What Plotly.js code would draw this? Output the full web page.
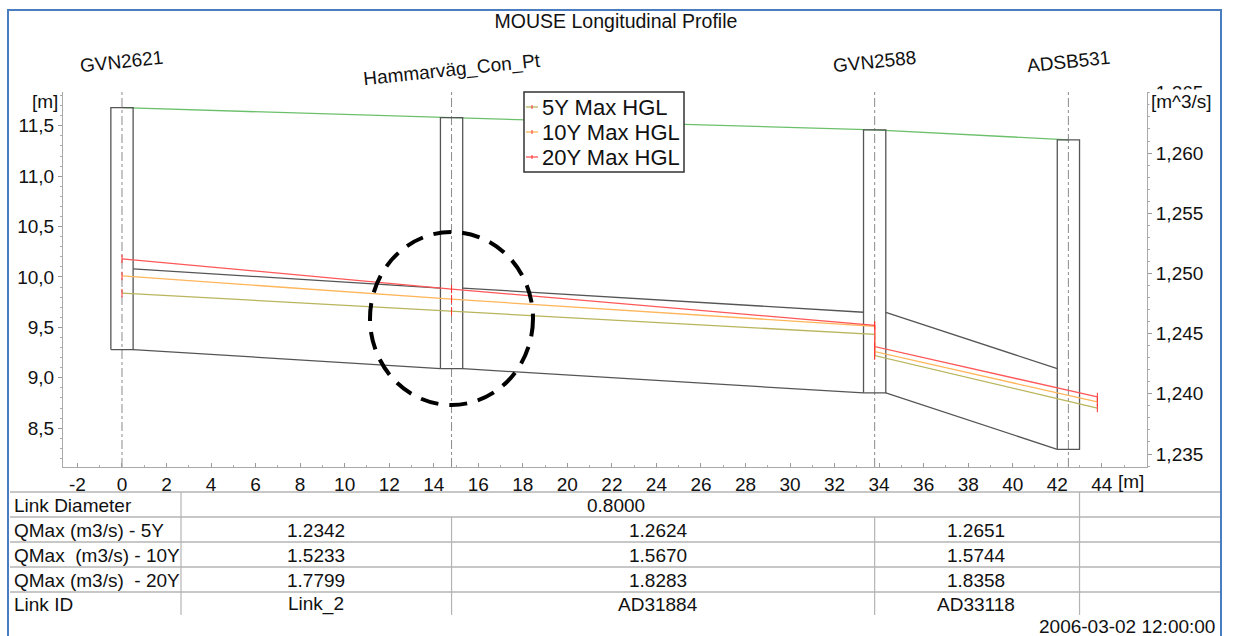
<!DOCTYPE html>
<html>
<head>
<meta charset="utf-8">
<script src="https://cdn.plot.ly/plotly-3.0.1.min.js"></script>
<style>html,body{margin:0;padding:0;background:#fff;}#chart{width:1234px;height:636px;}</style>
</head>
<body>
<div id="chart"></div>
<script>
// ---------------- DATA ----------------
const chartTitle = 'MOUSE Longitudinal Profile';
const nodeNames = ['GVN2621', 'Hammarväg_Con_Pt', 'GVN2588', 'ADSB531'];
const nodeChainage = [0, 14.8, 33.8, 42.5];
const groundLevel = [11.68, 11.58, 11.46, 11.36];
const nodeBottom = [9.28, 9.09, 8.85, 8.29];

const linkIds = ['Link_2', 'AD31884', 'AD33118'];
const linkDiameter = 0.8;
const pipeUpInvert = [9.28, 9.09, 8.85];
const pipeDownInvert = [9.09, 8.85, 8.29];

const hglChainage = [0, 14.8, 33.8, 33.8, 43.8];
const hgl5Y = [9.84, 9.66, 9.43, 9.22, 8.70];
const hgl10Y = [10.01, 9.78, 9.51, 9.26, 8.76];
const hgl20Y = [10.18, 9.88, 9.52, 9.31, 8.81];
const seriesNames = ['5Y Max HGL', '10Y Max HGL', '20Y Max HGL'];

const qMax5Y = [1.2342, 1.2624, 1.2651];
const qMax10Y = [1.5233, 1.5670, 1.5744];
const qMax20Y = [1.7799, 1.8283, 1.8358];
const rowLabels = ['Link Diameter', 'QMax (m3/s) - 5Y', 'QMax \u00a0(m3/s) - 10Y', 'QMax (m3/s) \u00a0- 20Y', 'Link ID'];
const timeStamp = '2006-03-02 12:00:00';

const xTickVals = [-2, 0, 2, 4, 6, 8, 10, 12, 14, 16, 18, 20, 22, 24, 26, 28, 30, 32, 34, 36, 38, 40, 42, 44];
const xTickText = ['-2', '0', '2', '4', '6', '8', '10', '12', '14', '16', '18', '20', '22', '24', '26', '28', '30', '32', '34', '36', '38', '40', '42', '44'];

// ---------------- LAYOUT HELPERS ----------------
const FONT = 'Arial, "Liberation Sans", sans-serif';
const M = {l: 63, r: 87, t: 92, b: 169};
const PW = 1234 - M.l - M.r, PH = 636 - M.t - M.b;
const px = x => (x - M.l) / PW;
const py = y => (636 - M.b - y) / PH;
const MH_W = 1.0;

// ---------------- TRACES ----------------
const traces = [];

traces.push({type: 'scatter', mode: 'lines', x: nodeChainage, y: groundLevel,
  line: {color: '#6cc06b', width: 1.3}, showlegend: false, hoverinfo: 'skip'});

const mhX = [], mhY = [];
nodeChainage.forEach((c, i) => {
  mhX.push(c - MH_W / 2, c + MH_W / 2, c + MH_W / 2, c - MH_W / 2, c - MH_W / 2, null);
  mhY.push(nodeBottom[i], nodeBottom[i], groundLevel[i], groundLevel[i], nodeBottom[i], null);
});
traces.push({type: 'scatter', mode: 'lines', x: mhX, y: mhY,
  line: {color: '#555', width: 1.3}, showlegend: false, hoverinfo: 'skip'});

const pX = [], pY = [];
linkIds.forEach((id, i) => {
  const xa = nodeChainage[i] + MH_W / 2, xb = nodeChainage[i + 1] - MH_W / 2;
  pX.push(xa, xb, null, xa, xb, null);
  pY.push(pipeUpInvert[i], pipeDownInvert[i], null,
          pipeUpInvert[i] + linkDiameter, pipeDownInvert[i] + linkDiameter, null);
});
traces.push({type: 'scatter', mode: 'lines', x: pX, y: pY,
  line: {color: '#555', width: 1.3}, showlegend: false, hoverinfo: 'skip'});

const hglColors = ['#b9b55c', '#ffb55a', '#ff5757'];
[hgl5Y, hgl10Y, hgl20Y].forEach((s, i) => {
  traces.push({type: 'scatter', mode: 'lines+markers', name: seriesNames[i],
    x: hglChainage, y: s, showlegend: false,
    line: {color: hglColors[i], width: 1.3},
    marker: {symbol: 'line-ns-open', size: 6, color: '#ff3030', line: {color: '#ff3030', width: 1}},
    hoverinfo: 'skip'});
});

traces.push({type: 'scatter', x: [], y: [], yaxis: 'y2', showlegend: false, hoverinfo: 'skip'});

// ---------------- SHAPES ----------------
const shapes = [];
nodeChainage.forEach(c => shapes.push({type: 'line', xref: 'x', yref: 'paper', x0: c, x1: c, y0: 0, y1: 1,
  line: {color: '#8a8a8a', width: 1, dash: 'dashdot'}, layer: 'below'}));

[492, 517, 542, 567, 592].forEach(y => shapes.push({type: 'line', xref: 'paper', yref: 'paper',
  x0: px(10), x1: px(1221), y0: py(y), y1: py(y), line: {color: '#b4b4b4', width: 1.5}}));
shapes.push({type: 'line', xref: 'paper', yref: 'paper', x0: px(181), x1: px(181), y0: py(492), y1: py(615),
  line: {color: '#b4b4b4', width: 1.2}});
[nodeChainage[1], nodeChainage[2]].forEach(c => shapes.push({type: 'line', xref: 'x', yref: 'paper',
  x0: c, x1: c, y0: py(517), y1: py(615), line: {color: '#b4b4b4', width: 1.2}}));
shapes.push({type: 'line', xref: 'x', yref: 'paper', x0: nodeChainage[3] + MH_W / 2, x1: nodeChainage[3] + MH_W / 2,
  y0: py(492), y1: py(615), line: {color: '#b4b4b4', width: 1.2}});

// legend box (drawn manually to match the compact original legend)
shapes.push({type: 'rect', xref: 'paper', yref: 'paper', x0: px(524), x1: px(684), y0: py(172), y1: py(92),
  fillcolor: '#fff', line: {color: '#333', width: 1.5}});
const legendRowY = [107, 132, 157];
seriesNames.forEach((n, i) => {
  shapes.push({type: 'line', xref: 'paper', yref: 'paper', x0: px(526), x1: px(538), y0: py(legendRowY[i]), y1: py(legendRowY[i]),
    line: {color: hglColors[i], width: 1.3}});
  shapes.push({type: 'line', xref: 'paper', yref: 'paper', x0: px(532), x1: px(532), y0: py(legendRowY[i] + 2), y1: py(legendRowY[i] - 2),
    line: {color: '#ff3030', width: 1}});
});

shapes.push({type: 'circle', xref: 'paper', yref: 'paper', x0: px(370), x1: px(533), y0: py(405), y1: py(232),
  line: {color: '#000', width: 4, dash: '18px,11px'}});

shapes.push({type: 'rect', xref: 'paper', yref: 'paper', x0: px(8), x1: px(1221), y0: py(645), y1: py(10),
  line: {color: '#4a7cc0', width: 2}});

// ---------------- ANNOTATIONS ----------------
const ann = [];
const txt = (text, x, y, xanchor, extra) => Object.assign({text: text, xref: 'paper', yref: 'paper', x: x, y: y,
  xanchor: xanchor || 'center', yanchor: 'middle', showarrow: false, font: {family: FONT, size: 19, color: '#111'}}, extra || {});

const nodeLabelY = [62, 70, 62, 62];
nodeNames.forEach((n, i) => ann.push(Object.assign(txt(n, 0, py(nodeLabelY[i])), {xref: 'x', x: nodeChainage[i], textangle: -6})));

ann.push(txt('[m]', px(60), py(101), 'right'));
ann.push(txt('[m^3/s]', px(1149), py(101), 'left', {bgcolor: '#fff'}));
ann.push(txt('[m]', px(1116), py(481), 'left'));

seriesNames.forEach((n, i) => ann.push(txt(n, px(540), py(legendRowY[i]), 'left', {font: {family: FONT, size: 22, color: '#111'}})));

const rowY = [505, 530, 555, 580, 604];
rowLabels.forEach((r, i) => ann.push(txt(r, px(12), py(rowY[i]), 'left')));
ann.push(txt(linkDiameter.toFixed(4), px(616), py(rowY[0])));
const colX = [316, 658, 976];
linkIds.forEach((id, j) => {
  ann.push(txt(qMax5Y[j].toFixed(4), px(colX[j]), py(rowY[1])));
  ann.push(txt(qMax10Y[j].toFixed(4), px(colX[j]), py(rowY[2])));
  ann.push(txt(qMax20Y[j].toFixed(4), px(colX[j]), py(rowY[3])));
  ann.push(txt(id, px(colX[j]), py(rowY[4])));
});
ann.push(txt(timeStamp, px(1217), py(626), 'right'));

// ---------------- LAYOUT ----------------
const axisCommon = {showgrid: false, zeroline: false, showline: true, linecolor: '#aaa', linewidth: 1,
  tickcolor: '#999', tickfont: {family: FONT, size: 19, color: '#111'}};

const layout = {
  width: 1234, height: 636,
  margin: M,
  paper_bgcolor: '#fff', plot_bgcolor: '#fff',
  separators: ',.',
  showlegend: false,
  title: {text: chartTitle, font: {family: FONT, size: 19.5, color: '#111'},
    xref: 'container', yref: 'container', x: 616 / 1234, y: 1 - 21 / 636, xanchor: 'center', yanchor: 'middle'},
  xaxis: Object.assign({}, axisCommon, {range: [-2.649, 46.03], tickmode: 'array', tickvals: xTickVals, ticktext: xTickText,
    ticks: 'inside', ticklen: 4, minor: {dtick: 1, tick0: 0, ticks: 'inside', ticklen: 2, tickcolor: '#aaa'}}),
  yaxis: Object.assign({}, axisCommon, {range: [8.115, 11.835], dtick: 0.5, tick0: 0, tickformat: '.1f',
    ticks: 'outside', ticklen: 4, minor: {dtick: 0.1, ticks: 'outside', ticklen: 2, tickcolor: '#aaa'}}),
  yaxis2: Object.assign({}, axisCommon, {overlaying: 'y', side: 'right', anchor: 'x',
    range: [1.23392, 1.26507], dtick: 0.005, tick0: 1.235, tickformat: '.3f',
    ticks: 'outside', ticklen: 4, minor: {dtick: 0.001, ticks: 'outside', ticklen: 2, tickcolor: '#aaa'}}),
  shapes: shapes,
  annotations: ann,
  hovermode: false
};

Plotly.newPlot('chart', traces, layout, {staticPlot: true, displayModeBar: false});
</script>
</body>
</html>
